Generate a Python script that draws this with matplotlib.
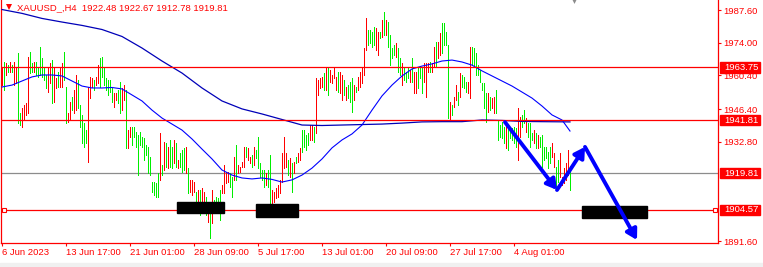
import matplotlib
matplotlib.use('Agg')
import matplotlib.pyplot as plt
from matplotlib.patches import Rectangle
import numpy as np

plt.rcParams['font.family'] = ['Liberation Sans', 'DejaVu Sans']

title = 'XAUUSD_,H4  1922.48 1922.67 1912.78 1919.81'

# H4 bars, 6 Jun 2023 .. 4 Aug 2023 (one entry per bar)
highs = [
    1963.5, 1966.0, 1965.6, 1964.7, 1966.0, 1964.7, 1966.0, 1963.5, 1969.7, 1944.8,
    1946.9, 1948.1, 1949.0, 1968.1, 1970.2, 1965.6, 1966.0, 1966.0, 1963.5, 1972.2,
    1967.7, 1963.5, 1960.6, 1963.5, 1965.6, 1966.8, 1963.5, 1959.3, 1961.8, 1963.5,
    1965.6, 1970.2, 1955.6, 1944.8, 1949.4, 1951.4, 1954.4, 1960.6, 1958.5, 1948.1,
    1944.0, 1940.6, 1937.7, 1955.6, 1959.8, 1959.3, 1958.5, 1959.8, 1964.7, 1967.7,
    1968.1, 1963.5, 1959.3, 1958.5, 1958.5, 1955.2, 1953.1, 1953.1, 1954.4, 1957.7,
    1955.2, 1956.4, 1954.4, 1937.7, 1939.0, 1939.0, 1939.0, 1936.9, 1935.7, 1936.9,
    1934.8, 1934.4, 1931.5, 1930.7, 1926.5, 1916.1, 1916.1, 1915.7, 1919.9, 1936.5,
    1923.2, 1932.7, 1932.3, 1930.7, 1933.6, 1930.7, 1933.6, 1932.3, 1925.3, 1928.2,
    1929.4, 1930.3, 1930.7, 1921.9, 1917.0, 1917.0, 1916.1, 1912.0, 1912.8, 1912.8,
    1913.6, 1912.0, 1909.9, 1907.4, 1907.4, 1912.8, 1908.6, 1909.9, 1909.5, 1912.8,
    1914.9, 1923.2, 1920.3, 1920.3, 1919.9, 1918.2, 1926.5, 1931.5, 1923.2, 1922.4,
    1924.4, 1930.7, 1930.7, 1930.3, 1926.5, 1927.3, 1930.7, 1929.4, 1934.8, 1924.0,
    1921.1, 1921.1, 1919.9, 1921.1, 1927.3, 1912.8, 1912.0, 1913.6, 1914.9, 1917.0,
    1928.2, 1934.8, 1928.2, 1925.3, 1926.1, 1924.0, 1924.4, 1926.5, 1928.2, 1930.3,
    1937.7, 1937.7, 1935.7, 1936.5, 1939.8, 1939.8, 1939.0, 1959.3, 1958.5, 1959.3,
    1959.8, 1961.4, 1963.5, 1963.5, 1962.7, 1960.6, 1963.5, 1959.8, 1961.8, 1961.8,
    1960.6, 1958.5, 1955.6, 1956.4, 1957.7, 1959.3, 1956.4, 1955.6, 1959.8, 1961.8,
    1963.9, 1971.8, 1984.3, 1979.3, 1979.3, 1978.5, 1980.5, 1980.1, 1978.5, 1978.5,
    1983.5, 1986.8, 1983.5, 1982.6, 1977.2, 1971.8, 1973.1, 1973.9, 1971.8, 1967.7,
    1965.6, 1963.9, 1961.8, 1963.5, 1962.7, 1967.7, 1961.8, 1961.8, 1963.9, 1963.5,
    1963.9, 1965.6, 1965.6, 1965.6, 1966.0, 1965.6, 1972.2, 1974.3, 1974.3, 1978.0,
    1982.2, 1982.2, 1978.5, 1973.1, 1949.4, 1948.1, 1951.4, 1956.4, 1953.5, 1961.4,
    1960.6, 1959.8, 1957.7, 1957.7, 1972.2, 1972.2, 1971.8, 1969.7, 1964.7, 1962.7,
    1957.3, 1957.3, 1953.1, 1953.1, 1951.4, 1951.0, 1951.4, 1954.4, 1941.9, 1939.8,
    1941.1, 1939.0, 1939.8, 1939.8, 1939.0, 1938.6, 1939.0, 1938.6, 1946.9, 1943.1,
    1944.0, 1946.0, 1942.7, 1940.6, 1940.6, 1936.5, 1937.7, 1936.5, 1935.7, 1934.8,
    1935.7, 1930.7, 1930.7, 1928.6, 1930.7, 1932.3, 1928.2, 1922.4, 1925.3, 1928.2,
    1918.2, 1921.9, 1924.0, 1929.4, 1922.67]
lows = [
    1956.4, 1954.4, 1960.6, 1961.8, 1961.8, 1961.8, 1956.4, 1957.3, 1940.6, 1939.8,
    1939.0, 1941.9, 1944.0, 1944.8, 1961.4, 1961.8, 1961.8, 1960.6, 1959.8, 1960.6,
    1959.8, 1958.5, 1955.2, 1953.5, 1957.3, 1949.0, 1949.4, 1955.2, 1955.6, 1955.6,
    1955.6, 1958.5, 1940.6, 1941.1, 1941.9, 1946.0, 1944.8, 1946.0, 1946.9, 1939.0,
    1932.3, 1930.7, 1932.3, 1924.4, 1951.0, 1955.6, 1954.4, 1956.4, 1957.3, 1955.6,
    1959.8, 1956.4, 1954.4, 1952.3, 1953.5, 1949.4, 1947.3, 1950.2, 1949.0, 1944.8,
    1946.0, 1950.2, 1930.3, 1930.3, 1934.8, 1931.5, 1934.8, 1930.7, 1919.0, 1931.5,
    1930.7, 1925.3, 1927.3, 1919.9, 1919.0, 1912.0, 1910.7, 1909.9, 1909.9, 1917.0,
    1919.0, 1921.1, 1922.4, 1921.9, 1922.4, 1921.9, 1924.0, 1922.4, 1921.9, 1922.4,
    1920.3, 1921.1, 1919.9, 1911.6, 1912.0, 1910.7, 1912.0, 1907.8, 1906.6, 1902.4,
    1905.7, 1903.2, 1902.4, 1899.5, 1892.9, 1899.1, 1903.2, 1905.3, 1905.7, 1900.3,
    1911.6, 1911.6, 1915.7, 1916.1, 1914.0, 1909.9, 1917.0, 1917.0, 1919.9, 1920.3,
    1922.4, 1922.4, 1926.5, 1925.3, 1924.0, 1922.4, 1923.2, 1926.1, 1921.9, 1918.2,
    1917.0, 1914.0, 1914.9, 1914.0, 1907.4, 1907.4, 1907.8, 1909.5, 1909.9, 1911.6,
    1916.1, 1921.9, 1922.4, 1919.0, 1918.2, 1912.0, 1919.9, 1924.0, 1924.4, 1925.3,
    1928.6, 1930.7, 1929.4, 1931.5, 1933.6, 1933.6, 1932.7, 1936.5, 1952.3, 1955.2,
    1955.6, 1954.4, 1954.4, 1952.3, 1957.7, 1957.3, 1959.3, 1954.4, 1953.5, 1953.1,
    1950.2, 1952.3, 1950.2, 1951.0, 1949.4, 1945.2, 1950.2, 1953.5, 1954.4, 1955.6,
    1957.3, 1960.6, 1971.0, 1973.1, 1973.9, 1972.2, 1973.1, 1971.0, 1968.9, 1976.0,
    1976.4, 1977.2, 1977.2, 1972.2, 1964.7, 1967.7, 1968.9, 1968.1, 1961.8, 1960.6,
    1956.4, 1958.5, 1957.7, 1959.3, 1957.7, 1957.7, 1953.1, 1953.1, 1955.2, 1959.3,
    1953.1, 1957.7, 1951.4, 1961.8, 1961.8, 1961.8, 1963.9, 1963.9, 1967.7, 1968.9,
    1969.7, 1973.1, 1973.1, 1942.7, 1941.9, 1944.0, 1947.3, 1950.2, 1948.1, 1951.4,
    1955.6, 1955.2, 1953.5, 1953.1, 1951.0, 1964.7, 1963.9, 1960.6, 1960.6, 1957.7,
    1954.4, 1946.9, 1941.1, 1945.2, 1946.0, 1946.9, 1944.8, 1944.8, 1933.6, 1934.8,
    1934.4, 1932.3, 1930.3, 1929.4, 1934.4, 1933.6, 1932.3, 1930.7, 1925.3, 1934.8,
    1939.0, 1940.6, 1936.9, 1934.8, 1930.7, 1933.6, 1932.3, 1930.3, 1930.3, 1930.7,
    1922.4, 1925.3, 1926.1, 1921.9, 1924.0, 1926.5, 1922.4, 1914.0, 1916.1, 1918.2,
    1914.9, 1915.7, 1917.0, 1919.0, 1912.78]
# r = red bar, g = green bar
bar_colors = ('rgrgrgrrgg' 'rrrrggrggg' 'gggrrgrrgr' 'rggrrgrrgg' 'gggrrrgrrg'
              'ggggggrrgg' 'rrgrrggggg' 'gggggggggr' 'grgrggrgrg' 'ggrgrrrgrg'
              'rrgrgrgggg' 'rrrrggrgrr' 'rrgrrgrggg' 'ggrggrrrrr' 'rrrgrgrgrr'
              'ggggrrgrrr' 'rgrgrrrrgr' 'rgrgggrgrr' 'rrrggggrrg' 'rgrggggrgg'
              'rgggrgrrgg' 'grrrgrrgrr' 'ggggrgrrgr' 'gggrrggggg' 'gggrgrrggg'
              'ggrgggggrr' 'ggrgggrgrg' 'gggggrrggr' 'rrrrg')

slow_ma_bar = [0, 10, 20, 30, 40, 50, 60, 70, 80, 90, 100, 110, 120, 130, 140,
               150, 160, 170, 180, 190, 200, 210, 220, 230, 240, 250, 260, 270, 284]
slow_ma = [1987.8, 1986.2, 1984.1, 1982.6, 1981.2, 1979.5, 1976.6, 1971.8, 1966.4,
           1961.4, 1955.2, 1949.8, 1946.5, 1944.4, 1942.1, 1939.8, 1939.6, 1939.8,
           1940.0, 1940.2, 1940.6, 1941.1, 1941.2, 1941.2, 1941.9, 1941.7, 1941.3,
           1941.2, 1941.1]
fast_ma_bar = [0, 5, 10, 15, 20, 25, 30, 35, 40, 45, 50, 55, 60, 65, 70, 75, 80, 85,
               90, 95, 100, 105, 110, 115, 120, 125, 130, 135, 140, 145, 150, 155,
               160, 165, 170, 175, 180, 185, 190, 195, 200, 205, 210, 215, 220, 225,
               230, 235, 240, 245, 250, 255, 260, 265, 270, 275, 280, 284]
fast_ma = [1955.6, 1956.4, 1958.1, 1959.8, 1960.6, 1960.6, 1960.2, 1958.1, 1956.0,
           1955.2, 1955.2, 1955.4, 1954.8, 1952.3, 1949.8, 1946.0, 1942.7, 1940.2,
           1937.7, 1934.0, 1929.8, 1925.7, 1921.1, 1919.0, 1917.8, 1917.4, 1917.8,
           1917.2, 1916.1, 1917.0, 1919.0, 1921.9, 1925.7, 1930.3, 1933.6, 1936.1,
           1939.8, 1946.0, 1951.9, 1956.4, 1960.2, 1963.1, 1964.3, 1965.2, 1966.4,
           1966.8, 1966.0, 1964.7, 1962.3, 1960.2, 1958.1, 1956.0, 1953.5, 1951.0,
           1947.7, 1944.0, 1941.9, 1937.3]

red_levels = [1963.75, 1941.81, 1904.57]
bid_level = 1919.81
price_ticks = [1987.60, 1974.00, 1960.40, 1946.40, 1932.80, 1891.60]

date_bars = [0, 32, 64, 96, 128, 160, 192, 224, 256]
date_labels = ['6 Jun 2023', '13 Jun 17:00', '21 Jun 01:00', '28 Jun 09:00',
               '5 Jul 17:00', '13 Jul 01:00', '20 Jul 09:00', '27 Jul 17:00',
               '4 Aug 01:00']

# black zones
zone_x0 = [87.5, 127.0, 290.0]
zone_x1 = [111.0, 148.0, 322.5]
zone_lo = [1903.4, 1901.7, 1901.2]
zone_hi = [1907.9, 1907.0, 1906.1]

# blue projection arrows (bar index, price)
path_bar = [251.5, 277.5, 291.5, 317.5]
path_price = [1941.0, 1912.8, 1930.7, 1892.0]

W, H = 763, 267
fig = plt.figure(figsize=(W / 100, H / 100), dpi=100)
fig.patch.set_facecolor('white')
ax = fig.add_axes([1.5 / W, 24 / H, 716.5 / W, 243 / H])
ax.set_facecolor('white')
ax.set_xlim(-0.25, 358)
ax.set_ylim(1890.77, 1991.76)

idx = np.arange(len(highs))
cols = ['#ff0000' if c == 'r' else '#00ee00' for c in bar_colors]
ax.vlines(idx, lows, highs, colors=cols, linewidth=0.5, antialiased=False, zorder=3)

ax.plot(slow_ma_bar, slow_ma, color='#0000b8', lw=0.9, zorder=4)
ax.plot(fast_ma_bar, fast_ma, color='#0000ff', lw=0.8, zorder=4)

for lv in red_levels:
    ax.axhline(lv, color='#ff0000', lw=0.9, zorder=5)
ax.axhline(bid_level, color='#8c8c8c', lw=0.9, zorder=2)

ymark = ax.get_yaxis_transform()
ax.plot([0.004, 0.996], [red_levels[2]] * 2, ls='none', marker='s', ms=3.4, mfc='white',
        mec='#ff0000', mew=0.8, transform=ymark, clip_on=False, zorder=7)

for x0, x1, lo, hi in zip(zone_x0, zone_x1, zone_lo, zone_hi):
    ax.add_patch(Rectangle((x0, lo), x1 - x0, hi - lo, color='black', zorder=6))

for k in range(len(path_bar) - 1):
    ax.annotate('', xy=(path_bar[k + 1], path_price[k + 1]),
                xytext=(path_bar[k], path_price[k]),
                arrowprops=dict(arrowstyle='-|>,head_length=0.6,head_width=0.35',
                                color='#0000ff', lw=2.8, mutation_scale=10,
                                shrinkA=0, shrinkB=0), zorder=8)

for s in ['left', 'right', 'bottom']:
    ax.spines[s].set_color('#ff0000')
    ax.spines[s].set_linewidth(0.9)
ax.spines['top'].set_visible(False)

ax.yaxis.tick_right()
ax.set_yticks(price_ticks)
ax.set_yticklabels(['%.2f' % p for p in price_ticks])
ax.tick_params(axis='y', colors='#ff0000', length=2.2, width=0.8, pad=1.5, labelsize=6.8)
ax.set_xticks(date_bars)
ax.set_xticklabels(date_labels, ha='left')
ax.tick_params(axis='x', colors='#ff0000', length=2.2, width=0.8, pad=1.5, labelsize=6.8)

# price boxes on the scale
box_x0 = (720 - 1.5) / 716.5
box_w = 40 / 716.5
half_h = 5.2 * (1991.76 - 1890.77) / 243
for lv in red_levels + [bid_level]:
    ax.add_patch(Rectangle((box_x0, lv - half_h), box_w, 2 * half_h, color='#ff0000',
                           transform=ymark, clip_on=False, zorder=9))
    ax.text((724 - 1.5) / 716.5, lv, '%.2f' % lv, transform=ymark, color='white',
            fontsize=6.8, va='center', ha='left', zorder=10, clip_on=False)

fig.text(17 / W, 1 - 7.5 / H, title, color='#ff0000', fontsize=6.8, va='center', ha='left')
ax.plot([8.5 / W], [1 - 6.5 / H], marker='v', ms=4.5, color='#ff0000', mew=0,
        transform=fig.transFigure, clip_on=False)
ax.plot([574 / W], [1 - 0.5 / H], marker='v', ms=3.5, color='#8c8c8c', mew=0,
        transform=fig.transFigure, clip_on=False)

fig.patches.append(Rectangle((0, 0), 1, 4.5 / H, transform=fig.transFigure,
                             color='#f0f0f0', zorder=0))

fig.savefig('out.png', dpi=100)
